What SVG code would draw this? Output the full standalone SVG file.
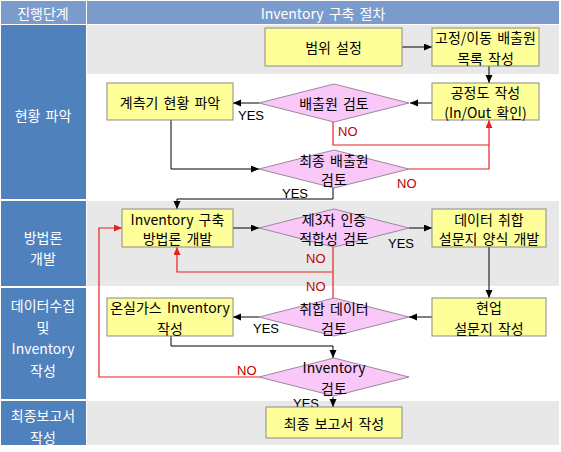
<svg xmlns="http://www.w3.org/2000/svg" width="561" height="452" viewBox="0 0 561 452">
<style>
.hd{fill:#7b9bcd}
.lc{fill:#4f81bd}
.band{fill:#e8e8e8}
.ht{font-family:"Noto Sans CJK KR","Liberation Sans",sans-serif;font-size:14px;fill:#fff;text-anchor:middle;dominant-baseline:central;word-spacing:2px}
.box{fill:#ffff99;stroke:#8a8a8a;stroke-width:1}
.dia{fill:#f9c8f9;stroke:#9a8a9a;stroke-width:1}
.t{font-family:"Noto Sans CJK KR","Liberation Sans",sans-serif;font-size:14px;fill:#000;text-anchor:middle;dominant-baseline:central;word-spacing:2px}
.c{fill:none;stroke:#000;stroke-width:1}
.r{fill:none;stroke:#e82020;stroke-width:1.2}
.yes{font-family:"Liberation Sans",sans-serif;font-size:13px;fill:#000;dominant-baseline:central}
.no{font-family:"Liberation Sans",sans-serif;font-size:13px;fill:#c00000;dominant-baseline:central}
</style>
<defs>
<marker id="ab" markerUnits="userSpaceOnUse" markerWidth="9" markerHeight="8" refX="8" refY="3.5" orient="auto"><path d="M0,0 L8,3.5 L0,7 z" fill="#000"/></marker>
<marker id="ar" markerUnits="userSpaceOnUse" markerWidth="9" markerHeight="8" refX="8" refY="3.5" orient="auto"><path d="M0,0 L8,3.5 L0,7 z" fill="#e82020"/></marker>
</defs>
<rect x="0" y="0" width="561" height="452" fill="#fff"/>
<g id="table">
<rect class="hd" x="1" y="1" width="85" height="23"/>
<rect class="hd" x="87" y="1" width="472" height="23"/>
<text class="ht" x="43" y="12.5">진행단계</text>
<text class="ht" x="323" y="12.5">Inventory 구축 절차</text>
<rect class="lc" x="1" y="25" width="85" height="174"/>
<rect class="lc" x="1" y="201" width="85" height="85"/>
<rect class="lc" x="1" y="288" width="85" height="111"/>
<rect class="lc" x="1" y="401" width="85" height="44"/>
<rect class="band" x="87" y="25" width="472" height="49"/>
<rect class="band" x="87" y="201" width="472" height="85"/>
<rect class="band" x="87" y="401" width="472" height="44"/>
<text class="ht" x="43" y="115">현황 파악</text>
<text class="ht" x="43" y="237">방법론</text>
<text class="ht" x="43" y="258">개발</text>
<text class="ht" x="43" y="305">데이터수집</text>
<text class="ht" x="43" y="327">및</text>
<text class="ht" x="43" y="348">Inventory</text>
<text class="ht" x="43" y="370">작성</text>
<text class="ht" x="43" y="415">최종보고서</text>
<text class="ht" x="43" y="437">작성</text>
</g>
<g id="connectors">
<path class="c" d="M402,47 H432" marker-end="url(#ab)"/>
<path class="c" d="M489,66 V83" marker-end="url(#ab)"/>
<path class="c" d="M432,103 H410" marker-end="url(#ab)"/>
<path class="c" d="M259,103 H233" marker-end="url(#ab)"/>
<path class="c" d="M171,120 V169 H259" marker-end="url(#ab)"/>
<path class="c" d="M333,188 V199 H177 V209" marker-end="url(#ab)"/>
<path class="c" d="M233,228 H259" marker-end="url(#ab)"/>
<path class="c" d="M409,228 H432" marker-end="url(#ab)"/>
<path class="c" d="M489,247 V298" marker-end="url(#ab)"/>
<path class="c" d="M432,317 H409" marker-end="url(#ab)"/>
<path class="c" d="M259,317 H233" marker-end="url(#ab)"/>
<path class="c" d="M171,336 V346 H333 V358" marker-end="url(#ab)"/>
<path class="c" d="M333,397 V407" marker-end="url(#ab)"/>
<path class="r" d="M333,122 V145 H489"/>
<path class="r" d="M409,169 H489 V120" marker-end="url(#ar)"/>
<path class="r" d="M333,247 V299"/>
<path class="r" d="M333,272 H177 V247" marker-end="url(#ar)"/>
<path class="r" d="M259,377 H99 V228 H122" marker-end="url(#ar)"/>
<text class="yes" x="238" y="115">YES</text>
<text class="no" x="338" y="131">NO</text>
<text class="no" x="397" y="183">NO</text>
<text class="yes" x="282" y="193">YES</text>
<text class="yes" x="388" y="243">YES</text>
<text class="no" x="306" y="258">NO</text>
<text class="no" x="306" y="286">NO</text>
<text class="yes" x="253" y="328">YES</text>
<text class="no" x="237" y="370">NO</text>
<text class="yes" x="293" y="403">YES</text>
</g>
<g id="n-scope"><rect class="box" x="265" y="28" width="137" height="38"/><text class="t" x="333.5" y="47">범위 설정</text></g>
<g id="n-list"><rect class="box" x="432" y="28" width="107" height="38"/><text class="t" x="485.5" y="37">고정/이동 배출원</text><text class="t" x="485.5" y="58">목록 작성</text></g>
<g id="n-process"><rect class="box" x="432" y="83" width="107" height="37"/><text class="t" x="485.5" y="92">공정도 작성</text><text class="t" x="485.5" y="112">(In/Out 확인)</text></g>
<g id="d-source"><polygon class="dia" points="259,103 334,84 409,103 334,122"/><text class="t" x="334" y="103">배출원 검토</text></g>
<g id="n-meter"><rect class="box" x="107" y="83" width="126" height="37"/><text class="t" x="170" y="101.5">계측기 현황 파악</text></g>
<g id="d-final"><polygon class="dia" points="259,169 334,150 409,169 334,188"/><text class="t" x="334" y="160">최종 배출원</text><text class="t" x="334" y="179">검토</text></g>
<g id="n-method"><rect class="box" x="122" y="209" width="111" height="38"/><text class="t" x="177.5" y="219">Inventory 구축</text><text class="t" x="177.5" y="238">방법론 개발</text></g>
<g id="d-third"><polygon class="dia" points="259,228 334,209 409,228 334,247"/><text class="t" x="334" y="219">제3자 인증</text><text class="t" x="334" y="238">적합성 검토</text></g>
<g id="n-form"><rect class="box" x="432" y="209" width="114" height="38"/><text class="t" x="489" y="219">데이터 취합</text><text class="t" x="489" y="238">설문지 양식 개발</text></g>
<g id="n-field"><rect class="box" x="432" y="298" width="114" height="38"/><text class="t" x="489" y="307">현업</text><text class="t" x="489" y="328">설문지 작성</text></g>
<g id="d-data"><polygon class="dia" points="259,317 334,298 409,317 334,336"/><text class="t" x="334" y="308">취합 데이터</text><text class="t" x="334" y="328">검토</text></g>
<g id="n-ghg"><rect class="box" x="107" y="298" width="126" height="38"/><text class="t" x="170" y="307">온실가스 Inventory</text><text class="t" x="170" y="328">작성</text></g>
<g id="d-inv"><polygon class="dia" points="259,377 334,358 409,377 334,396"/><text class="t" x="334" y="367">Inventory</text><text class="t" x="334" y="388">검토</text></g>
<g id="n-report"><rect class="box" x="266" y="407" width="136" height="31"/><text class="t" x="334" y="423">최종 보고서 작성</text></g>
</svg>
